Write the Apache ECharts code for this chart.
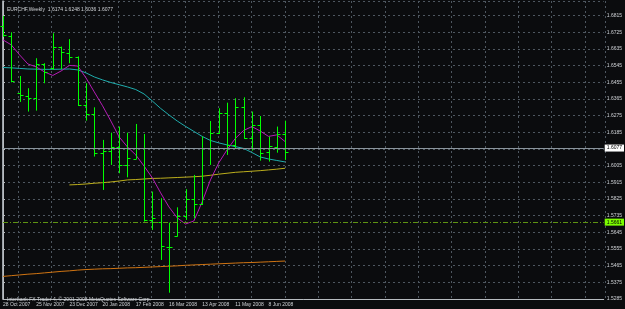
<!DOCTYPE html>
<html>
<head>
<meta charset="utf-8">
<title>EURCHF,Weekly</title>
<script src="https://cdn.jsdelivr.net/npm/echarts@6/dist/echarts.min.js"></script>
<style>
  html, body { margin: 0; padding: 0; background: #0b0c0e; }
  #chart { width: 625px; height: 309px; }
</style>
</head>
<body>
<div id="chart"></div>
<script>
// weekly bars, first one is 28 Oct 2007
var dates = ['28 Oct 2007', '4 Nov 2007', '11 Nov 2007', '18 Nov 2007', '25 Nov 2007', '2 Dec 2007', '9 Dec 2007',
  '16 Dec 2007', '23 Dec 2007', '30 Dec 2007', '6 Jan 2008', '13 Jan 2008', '20 Jan 2008', '27 Jan 2008',
  '3 Feb 2008', '10 Feb 2008', '17 Feb 2008', '24 Feb 2008', '2 Mar 2008', '9 Mar 2008', '16 Mar 2008',
  '23 Mar 2008', '30 Mar 2008', '6 Apr 2008', '13 Apr 2008', '20 Apr 2008', '27 Apr 2008', '4 May 2008',
  '11 May 2008', '18 May 2008', '25 May 2008', '1 Jun 2008', '8 Jun 2008', '15 Jun 2008', '22 Jun 2008']
var barSlots = 72.4 // visible width in bars, incl. the empty shift area on the right

var opens = [1.6760, 1.6707, 1.6395, 1.6380, 1.6371, 1.6554, 1.6531, 1.6644, 1.6612, 1.6590, 1.6333, 1.6284,
  1.6072, 1.6086, 1.6104, 1.6009, 1.6043, 1.6099, 1.5712, 1.5703, 1.5568, 1.5626, 1.5734, 1.5824, 1.5798,
  1.6099, 1.6183, 1.6288, 1.6117, 1.6324, 1.6153, 1.6225, 1.6080, 1.6104, 1.6174]
var highs = [1.6813, 1.6725, 1.6489, 1.6423, 1.6585, 1.6558, 1.6720, 1.6648, 1.6688, 1.6595, 1.6450, 1.6320,
  1.6144, 1.6183, 1.6216, 1.6183, 1.6230, 1.6176, 1.5865, 1.5829, 1.5697, 1.5780, 1.5878, 1.5955, 1.6162,
  1.6246, 1.6315, 1.6345, 1.6369, 1.6374, 1.6297, 1.6273, 1.6162, 1.6216, 1.6248]
var lows = [1.6700, 1.6455, 1.6349, 1.6297, 1.6302, 1.6450, 1.6522, 1.6526, 1.6558, 1.6327, 1.6248, 1.6054,
  1.5874, 1.6009, 1.5964, 1.5942, 1.6041, 1.5703, 1.5658, 1.5496, 1.5319, 1.5622, 1.5712, 1.5721, 1.5793,
  1.6009, 1.6176, 1.6063, 1.6099, 1.6150, 1.6086, 1.6032, 1.6027, 1.6075, 1.6036]
var closes = [1.6708, 1.6460, 1.6385, 1.6372, 1.6554, 1.6513, 1.6648, 1.6617, 1.6590, 1.6333, 1.6282, 1.6072,
  1.6086, 1.6108, 1.6009, 1.6045, 1.6099, 1.5712, 1.5723, 1.5571, 1.5568, 1.5734, 1.5824, 1.5798, 1.6099,
  1.6183, 1.6288, 1.6117, 1.6324, 1.6153, 1.6225, 1.6072, 1.6110, 1.6174, 1.6077]

// moving averages as they show on the chart
var maMagenta = [1.6684, 1.6657, 1.6603, 1.6554, 1.6538, 1.6511, 1.6492, 1.6516, 1.6546, 1.6543, 1.6479, 1.6403,
  1.6328, 1.6246, 1.6160, 1.6106, 1.6063, 1.6003, 1.5939, 1.5858, 1.5782, 1.5723, 1.5690, 1.5706, 1.5809,
  1.5928, 1.6020, 1.6090, 1.6152, 1.6195, 1.6216, 1.6192, 1.6163, 1.6171, 1.6135]
var maCyan = [1.6535, 1.6533, 1.6530, 1.6527, 1.6526, 1.6525, 1.6525, 1.6526, 1.6527, 1.6522, 1.6506, 1.6484,
  1.6468, 1.6454, 1.6442, 1.6430, 1.6416, 1.6392, 1.6354, 1.6314, 1.6279, 1.6246, 1.6217, 1.6190, 1.6163,
  1.6141, 1.6128, 1.6117, 1.6108, 1.6098, 1.6076, 1.6052, 1.6041, 1.6033, 1.6025]
var maYellow = [null, null, null, null, null, null, null, null, 1.5901, 1.5903, 1.5906, 1.5910,
  1.5913, 1.5917, 1.5922, 1.5928, 1.5930, 1.5933, 1.5936, 1.5937, 1.5939, 1.5941, 1.5943, 1.5945, 1.5948,
  1.5953, 1.5959, 1.5964, 1.5969, 1.5972, 1.5975, 1.5978, 1.5982, 1.5986, 1.5991]
var maOrange = [1.5407, 1.5411, 1.5415, 1.5419, 1.5422, 1.5426, 1.5430, 1.5434, 1.5437, 1.5441, 1.5444, 1.5446,
  1.5448, 1.5449, 1.5451, 1.5453, 1.5454, 1.5456, 1.5458, 1.5460, 1.5462, 1.5464, 1.5467, 1.5469, 1.5471,
  1.5473, 1.5475, 1.5477, 1.5479, 1.5481, 1.5482, 1.5484, 1.5486, 1.5488, 1.5490]

var bidPrice = 1.6077
var alertPrice = 1.5661
var priceMin = 1.5285
var priceMax = 1.6894
var priceStep = 0.009

var titleText = 'EURCHF,Weekly  1.6174 1.6248 1.6036 1.6077'
var copyText = 'Interbank FX Trader 4, \u00a9 2001-2008 MetaQuotes Software Corp.'

var ohlc = dates.map(function(d, i) {
  return [i, opens[i], highs[i], lows[i], closes[i]]
})

function pairs(arr) {
  var out = []
  arr.forEach(function(v, i) { if (v !== null) out.push([i, v]) })
  return out
}

var fontFam = 'Liberation Sans'
var txtColor = '#cfd2d6'
var gridColor = '#4e5760'
var frameColor = '#b8bcc0'

// plot frame: bar 0 sits on the left edge, right edge at x=605
var plotLeft = 1.7
var plotRight = 20
var barW = (625 - plotRight - plotLeft) / barSlots

function renderBar(params, api) {
  var i = api.value(0)
  var x = Math.round(api.coord([i, api.value(1)])[0]) + 0.5
  var yo = Math.round(api.coord([i, api.value(1)])[1]) + 0.5
  var yh = api.coord([i, api.value(2)])[1]
  var yl = api.coord([i, api.value(3)])[1]
  var yc = Math.round(api.coord([i, api.value(4)])[1]) + 0.5
  var st = { stroke: '#00ff00', lineWidth: 1 }
  return {
    type: 'group',
    children: [
      { type: 'line', shape: { x1: x, y1: yh, x2: x, y2: yl }, style: st },
      { type: 'line', shape: { x1: x - 3, y1: yo, x2: x, y2: yo }, style: st },
      { type: 'line', shape: { x1: x, y1: yc, x2: x + 3, y2: yc }, style: st }
    ]
  }
}

function maLine(name, data, color) {
  return {
    name: name,
    type: 'line',
    data: pairs(data),
    showSymbol: false,
    symbol: 'none',
    lineStyle: { color: color, width: 1 },
    z: 3
  }
}

var chart = echarts.init(document.getElementById('chart'), null, { renderer: 'canvas' })

chart.setOption({
  backgroundColor: '#0b0c0e',
  animation: false,
  textStyle: { fontFamily: fontFam },
  title: [
    { text: titleText, left: 2, top: 2, textStyle: { color: txtColor, fontSize: 5, fontWeight: 'normal', fontFamily: fontFam } },
    { text: copyText, left: 2, top: 292, textStyle: { color: txtColor, fontSize: 5, fontWeight: 'normal', fontFamily: fontFam } }
  ],
  grid: [
    { left: plotLeft, right: plotRight, top: 1, bottom: 10 },
    // only carries the vertical grid lines, which fall on bars 2, 6, 10, ...
    { left: plotLeft + 2 * barW, right: plotRight, top: 1, bottom: 10 }
  ],
  xAxis: [{
    type: 'value',
    gridIndex: 0,
    min: 0,
    max: barSlots,
    interval: 4,
    axisLine: { lineStyle: { color: frameColor, width: 1 } },
    axisTick: { show: false },
    axisLabel: {
      showMaxLabel: false,
      align: 'left',
      margin: 3,
      fontSize: 5,
      color: txtColor,
      fontFamily: fontFam,
      formatter: function(v) { return v % 4 === 0 && v < dates.length ? dates[v] : '' }
    },
    splitLine: { show: false }
  }, {
    type: 'value',
    gridIndex: 1,
    min: 0,
    max: barSlots - 2,
    interval: 4,
    axisLine: { show: false },
    axisTick: { show: false },
    axisLabel: { show: false },
    splitLine: { show: true, lineStyle: { color: gridColor, type: [2, 3], width: 1 } }
  }],
  yAxis: [{
    type: 'value',
    gridIndex: 0,
    position: 'right',
    min: priceMin,
    max: priceMax,
    interval: priceStep,
    axisLine: { show: true, lineStyle: { color: frameColor } },
    axisTick: { show: true, length: 2, lineStyle: { color: frameColor } },
    axisLabel: {
      showMaxLabel: false,
      margin: 3,
      fontSize: 5,
      color: txtColor,
      fontFamily: fontFam,
      formatter: function(v) { return v.toFixed(4) }
    },
    splitLine: { show: true, lineStyle: { color: gridColor, type: [2, 3], width: 1 } }
  }, {
    type: 'value',
    gridIndex: 0,
    position: 'left',
    offset: 1,
    min: priceMin,
    max: priceMax,
    axisLine: { show: true, lineStyle: { color: '#9aa0a6' } },
    axisTick: { show: false },
    axisLabel: { show: false },
    splitLine: { show: false }
  }, {
    type: 'value',
    gridIndex: 1,
    show: false,
    min: priceMin,
    max: priceMax
  }],
  series: [
    maLine('orange', maOrange, '#d07412'),
    maLine('yellow', maYellow, '#bcae1c'),
    maLine('cyan', maCyan, '#1fadad'),
    maLine('magenta', maMagenta, '#b51cb5'),
    {
      name: 'EURCHF',
      type: 'custom',
      renderItem: renderBar,
      data: ohlc,
      encode: { x: 0, y: [1, 2, 3, 4] },
      z: 4,
      markLine: {
        symbol: 'none',
        silent: true,
        animation: false,
        data: [
          {
            yAxis: bidPrice,
            lineStyle: { color: '#8a949c', type: 'solid', width: 1 },
            label: {
              position: 'end', distance: 1, formatter: bidPrice.toFixed(4),
              backgroundColor: '#ffffff', color: '#000000', fontSize: 5, padding: [1, 2], fontFamily: fontFam
            }
          },
          {
            yAxis: alertPrice,
            lineStyle: { color: '#5e9412', type: [5, 2, 1, 2], width: 1 },
            label: {
              position: 'end', distance: 1, formatter: alertPrice.toFixed(4),
              backgroundColor: '#7cfc00', color: '#000000', fontSize: 5, padding: [1, 2], fontFamily: fontFam
            }
          }
        ]
      }
    }
  ]
})
</script>
</body>
</html>
